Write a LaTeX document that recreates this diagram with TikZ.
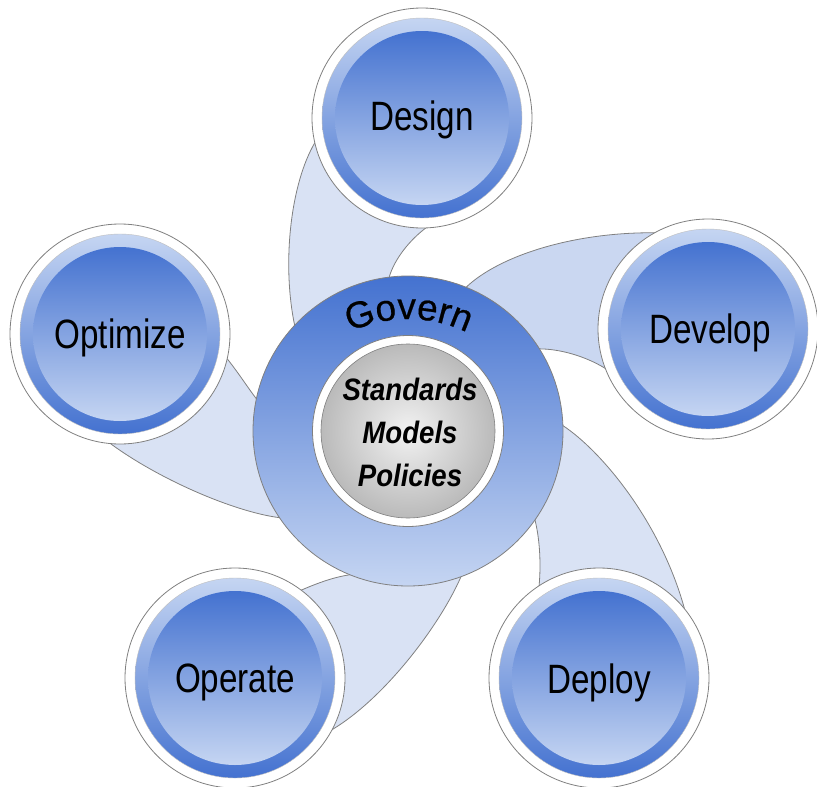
\documentclass[tikz,border=0pt]{standalone}
\usepackage{fontspec}
\setmainfont{Liberation Sans}
\newfontfamily\narrowfont{Liberation Sans}[FakeStretch=0.81]
\newfontfamily\hubfont{Liberation Sans}[FakeStretch=0.89]
\newfontfamily\govfont{Liberation Sans}[FakeBold=0.6]
\pgfdeclarelayer{background}
\pgfsetlayers{background,main}
\definecolor{edgegray}{RGB}{128,128,128}
\definecolor{bluedark}{RGB}{68,114,208}
\definecolor{bluelight}{RGB}{197,213,242}
\definecolor{armfill}{RGB}{217,226,244}
\definecolor{armfilldev}{RGB}{202,215,241}
\definecolor{coreinner}{RGB}{242,242,242}
\definecolor{coreouter}{RGB}{186,186,186}
\newcommand\drawstage[4]{%
  \node[stageouter] (#1) at #2 {};
  \node[stageband] (#1-band) at #2 {};
  \node[stagecore] (#1-core) at #2 {};
  \node[stagelabel] (#1-label) at #4 {#3};
}
\newcommand\govletter[3]{%
  \node[govstyle, rotate=#2-90] (gov#1) at ($(govc)+(#2:135)$) {#3};
}
\usetikzlibrary{calc}
\begin{document}
\begin{tikzpicture}[x=1pt,y=1pt,
  stageouter/.style={circle, draw=edgegray, line width=0.8pt, fill=white, minimum size=220pt, inner sep=0pt, outer sep=0pt},
  stageband/.style={circle, draw=edgegray!50, line width=0.4pt, top color=bluelight, bottom color=bluedark, minimum size=200pt, inner sep=0pt, outer sep=0pt},
  stagecore/.style={circle, top color=bluedark, bottom color=bluelight, minimum size=174pt, inner sep=0pt, outer sep=0pt},
  stagelabel/.style={anchor=base, inner sep=0pt, font=\narrowfont\fontsize{41pt}{45pt}\selectfont},
  hubring/.style={circle, draw=edgegray, line width=0.8pt, top color=bluedark, bottom color=bluelight, minimum size=310pt, inner sep=0pt, outer sep=0pt},
  hubwhite/.style={circle, draw=edgegray, line width=0.8pt, fill=white, minimum size=191pt, inner sep=0pt, outer sep=0pt},
  hubcore/.style={circle, draw=edgegray, line width=0.6pt, inner color=coreinner, outer color=coreouter, minimum size=174pt, inner sep=0pt, outer sep=0pt},
  hubtext/.style={anchor=base, inner sep=0pt, font=\hubfont\bfseries\itshape\fontsize{31pt}{34pt}\selectfont},
  govstyle/.style={anchor=base, inner sep=0pt, font=\govfont\fontsize{37pt}{40pt}\selectfont},
  arm/.style={draw=edgegray, line width=0.8pt, fill=armfill}
]
\useasboundingbox (0,0) rectangle (817,-787);

% central hub
\node[hubring] (hub) at (408,-431) {};
\node[hubwhite] (hubw) at (408,-431) {};
\node[hubcore] (core) at (408,-431) {};
\node[hubtext] (t1) at (410,-400) {Standards};
\node[hubtext] (t2) at (410,-443) {Models};
\node[hubtext] (t3) at (410,-486) {Policies};
\coordinate (govc) at (408,-454);
\govletter{1}{109.2}{G}
\govletter{2}{98.8}{o}
\govletter{3}{90.5}{v}
\govletter{4}{82.3}{e}
\govletter{5}{75.4}{r}
\govletter{6}{68.5}{n}

% outer stages
\drawstage{design}{(422,-118)}{Design}{(422,-130)}
\drawstage{develop}{(708,-329)}{Develop}{(710,-343)}
\drawstage{deploy}{(599,-678)}{Deploy}{(599,-693)}
\drawstage{operate}{(235,-678)}{Operate}{(235,-692)}
\drawstage{optimize}{(120,-334)}{Optimize}{(120,-348)}

% swirl arms
\begin{pgfonlayer}{background}
\draw[arm] (hub.137) .. controls (282,-265) and (290,-185) .. (design.193)
  -- (design.center) -- (design.272) .. controls (410,-240) and (395,-258) .. (hub.97)
  -- (hub.center) -- cycle;
\draw[arm, fill=armfilldev] (hub.68) .. controls (500,-255) and (575,-232) .. (develop.119)
  -- (develop.center) -- (develop.201) .. controls (585,-356) and (560,-349) .. (hub.32)
  -- (hub.center) -- cycle;
\draw[arm] (hub.2) .. controls (600,-450) and (660,-520) .. (deploy.39)
  -- (deploy.center) -- (deploy.123) .. controls (541,-565) and (540,-540) .. (hub.-35)
  -- (hub.center) -- cycle;
\draw[arm] (hub.-70.5) .. controls (440,-625) and (385,-698) .. (operate.-28)
  -- (operate.center) -- (operate.53) .. controls (320,-582) and (335,-577) .. (hub.-112)
  -- (hub.center) -- cycle;
\draw[arm] (hub.214) .. controls (235,-512) and (160,-480) .. (optimize.265)
  -- (optimize.center) -- (optimize.-13.5) .. controls (240,-375) and (248,-388) .. (hub.168.5)
  -- (hub.center) -- cycle;
\end{pgfonlayer}
\end{tikzpicture}
\end{document}
